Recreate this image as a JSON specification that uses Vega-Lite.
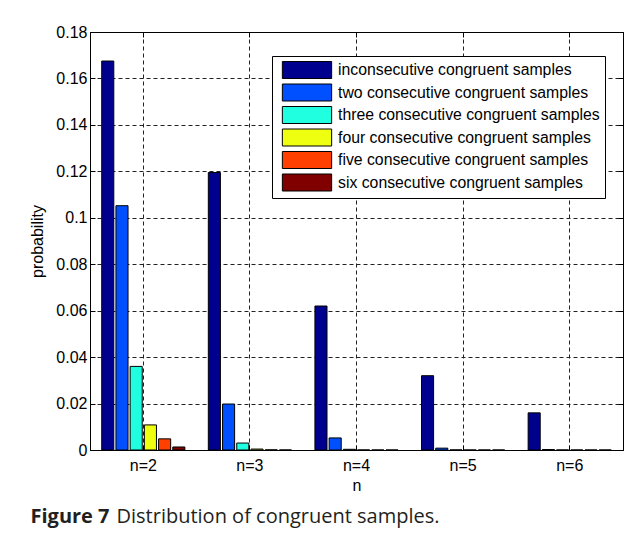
{
  "$schema": "https://vega.github.io/schema/vega-lite/v6.json",
  "autosize": {"type": "none"},
  "padding": {"left": 90, "top": 32, "right": 14, "bottom": 87},
  "background": "white",
  "width": 533,
  "height": 418,
  "data": {
    "values": [
      {"n": "n=2", "series": "inconsecutive congruent samples", "p": 0.1675},
      {"n": "n=2", "series": "two consecutive congruent samples", "p": 0.1052},
      {"n": "n=2", "series": "three consecutive congruent samples", "p": 0.036},
      {"n": "n=2", "series": "four consecutive congruent samples", "p": 0.0108},
      {"n": "n=2", "series": "five consecutive congruent samples", "p": 0.0048},
      {"n": "n=2", "series": "six consecutive congruent samples", "p": 0.0013},
      {"n": "n=3", "series": "inconsecutive congruent samples", "p": 0.1195},
      {"n": "n=3", "series": "two consecutive congruent samples", "p": 0.0198},
      {"n": "n=3", "series": "three consecutive congruent samples", "p": 0.003},
      {"n": "n=3", "series": "four consecutive congruent samples", "p": 0.0004},
      {"n": "n=3", "series": "five consecutive congruent samples", "p": 0.00005},
      {"n": "n=3", "series": "six consecutive congruent samples", "p": 0.000005},
      {"n": "n=4", "series": "inconsecutive congruent samples", "p": 0.062},
      {"n": "n=4", "series": "two consecutive congruent samples", "p": 0.0052},
      {"n": "n=4", "series": "three consecutive congruent samples", "p": 0.0003},
      {"n": "n=4", "series": "four consecutive congruent samples", "p": 0.00002},
      {"n": "n=4", "series": "five consecutive congruent samples", "p": 0},
      {"n": "n=4", "series": "six consecutive congruent samples", "p": 0},
      {"n": "n=5", "series": "inconsecutive congruent samples", "p": 0.032},
      {"n": "n=5", "series": "two consecutive congruent samples", "p": 0.0008},
      {"n": "n=5", "series": "three consecutive congruent samples", "p": 0.00004},
      {"n": "n=5", "series": "four consecutive congruent samples", "p": 0},
      {"n": "n=5", "series": "five consecutive congruent samples", "p": 0},
      {"n": "n=5", "series": "six consecutive congruent samples", "p": 0},
      {"n": "n=6", "series": "inconsecutive congruent samples", "p": 0.016},
      {"n": "n=6", "series": "two consecutive congruent samples", "p": 0.0002},
      {"n": "n=6", "series": "three consecutive congruent samples", "p": 0.00001},
      {"n": "n=6", "series": "four consecutive congruent samples", "p": 0},
      {"n": "n=6", "series": "five consecutive congruent samples", "p": 0},
      {"n": "n=6", "series": "six consecutive congruent samples", "p": 0}
    ]
  },
  "layer": [
    {
      "mark": {"type": "bar", "stroke": "#000000", "strokeWidth": 1},
      "encoding": {
        "x": {
          "field": "n",
          "type": "nominal",
          "scale": {"paddingInner": 0.22, "paddingOuter": 0.11},
          "axis": {
            "title": "n",
            "labelAngle": 0,
            "bandPosition": 0.5,
            "grid": true,
            "gridDash": [4, 3],
            "gridColor": "#222222",
            "gridOpacity": 1,
            "tickSize": -5,
            "tickColor": "#000000",
            "domainColor": "#000000",
            "labelPadding": 12,
            "titlePadding": 4
          }
        },
        "xOffset": {
          "field": "series",
          "type": "nominal",
          "sort": [
            "inconsecutive congruent samples",
            "two consecutive congruent samples",
            "three consecutive congruent samples",
            "four consecutive congruent samples",
            "five consecutive congruent samples",
            "six consecutive congruent samples"
          ],
          "scale": {"paddingInner": 0.15, "paddingOuter": 0}
        },
        "y": {
          "field": "p",
          "type": "quantitative",
          "scale": {"domain": [0, 0.18], "nice": false},
          "axis": {
            "title": "probability",
            "values": [0, 0.02, 0.04, 0.06, 0.08, 0.1, 0.12, 0.14, 0.16, 0.18],
            "format": "~g",
            "grid": true,
            "gridDash": [4, 3],
            "gridColor": "#222222",
            "gridOpacity": 1,
            "tickSize": -5,
            "tickColor": "#000000",
            "domainColor": "#000000",
            "labelPadding": 8,
            "titlePadding": 10
          }
        },
        "color": {
          "field": "series",
          "type": "nominal",
          "sort": [
            "inconsecutive congruent samples",
            "two consecutive congruent samples",
            "three consecutive congruent samples",
            "four consecutive congruent samples",
            "five consecutive congruent samples",
            "six consecutive congruent samples"
          ],
          "scale": {
            "domain": [
              "inconsecutive congruent samples",
              "two consecutive congruent samples",
              "three consecutive congruent samples",
              "four consecutive congruent samples",
              "five consecutive congruent samples",
              "six consecutive congruent samples"
            ],
            "range": ["#00008f", "#0050ff", "#20ffdf", "#efff10", "#ff4000", "#800000"]
          },
          "legend": {
            "title": null,
            "orient": "none",
            "legendX": 182,
            "legendY": 24,
            "padding": 5,
            "fillColor": "white",
            "strokeColor": "#000000",
            "symbolType": "M-2.9,-1H2.9V1H-2.9Z",
            "symbolSize": 289,
            "symbolStrokeColor": "#000000",
            "symbolStrokeWidth": 1,
            "symbolOffset": 21,
            "labelOffset": 22,
            "rowPadding": 0.5,
            "labelFont": "Liberation Sans",
            "labelFontSize": 15.8,
            "labelColor": "#000000",
            "labelLimit": 400
          }
        }
      }
    },
    {
      "mark": {"type": "bar", "opacity": 0},
      "encoding": {
        "x": {
          "field": "n",
          "type": "nominal",
          "axis": {
            "orient": "bottom",
            "title": "Distribution of congruent samples.",
            "labels": false,
            "ticks": false,
            "domain": false,
            "grid": false,
            "titleFont": "Open Sans",
            "titleFontSize": 20,
            "titleFontWeight": "normal",
            "titleColor": "#231f20",
            "titleAnchor": "start",
            "titleAlign": "left",
            "titleBaseline": "alphabetic",
            "titleX": 26,
            "titleY": 72
          }
        },
        "y": {
          "field": "p",
          "type": "quantitative",
          "axis": {
            "orient": "right",
            "title": null,
            "labels": false,
            "values": [0, 0.02, 0.04, 0.06, 0.08, 0.1, 0.12, 0.14, 0.16, 0.18],
            "grid": false,
            "tickSize": -5,
            "tickColor": "#000000",
            "domainColor": "#000000"
          }
        }
      }
    },
    {
      "mark": {"type": "bar", "opacity": 0},
      "encoding": {
        "x": {
          "field": "n",
          "type": "nominal",
          "axis": {
            "orient": "bottom",
            "title": "Figure 7",
            "labels": false,
            "ticks": false,
            "domain": false,
            "grid": false,
            "titleFont": "Open Sans",
            "titleFontSize": 20,
            "titleFontWeight": "bold",
            "titleColor": "#231f20",
            "titleAnchor": "start",
            "titleAlign": "left",
            "titleBaseline": "alphabetic",
            "titleX": -60,
            "titleY": 72
          }
        },
        "y": {"field": "p", "type": "quantitative", "axis": null}
      }
    },
    {
      "mark": {"type": "bar", "opacity": 0},
      "encoding": {
        "x": {
          "field": "n",
          "type": "nominal",
          "axis": {
            "orient": "top",
            "title": null,
            "labels": false,
            "bandPosition": 0.5,
            "grid": false,
            "tickSize": -5,
            "tickColor": "#000000",
            "domainColor": "#000000"
          }
        },
        "y": {"field": "p", "type": "quantitative", "axis": null}
      }
    }
  ],
  "resolve": {"axis": {"x": "independent", "y": "independent"}},
  "config": {
    "view": {"stroke": "#000000", "strokeWidth": 1},
    "axis": {
      "labelFont": "Liberation Sans",
      "labelFontSize": 16,
      "labelColor": "#000000",
      "titleFont": "Liberation Sans",
      "titleFontSize": 16,
      "titleFontWeight": "normal",
      "titleColor": "#000000"
    }
  }
}
